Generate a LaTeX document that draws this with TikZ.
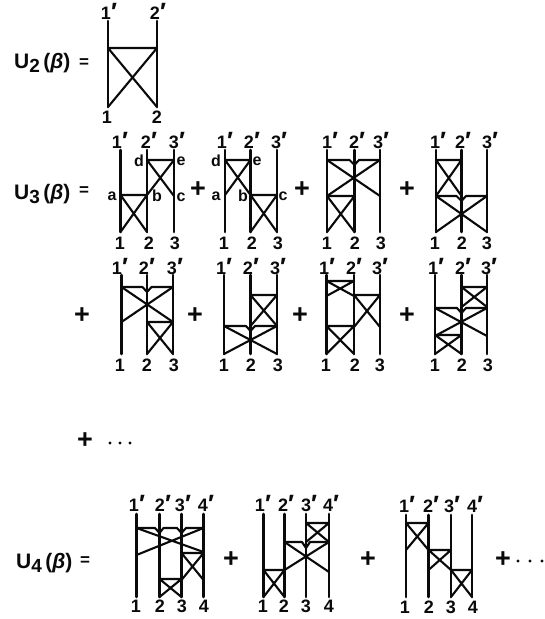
\documentclass[tikz,border=0pt]{standalone}
\usepackage{fontspec}
\setmainfont{Liberation Sans}
\usetikzlibrary{positioning}
\definecolor{PrintBlack}{gray}{0.04}
\tikzset{%
  world_line/.style={%
    draw=PrintBlack,%
    line width=2.8pt,%
    line cap=round,%
  },
  rung/.style={%
    draw=PrintBlack,%
    line width=2.1pt,%
    line join=round,%
    line cap=round,%
  },
  wire_label/.style={%
    text=PrintBlack,%
    inner sep=0pt,%
    font={\fontsize{18}{18}\selectfont\bfseries},%
  },
  vertex_label/.style={%
    text=PrintBlack,%
    inner sep=0pt,%
    font={\fontsize{16}{16}\selectfont\bfseries},%
  },
  term_sign/.style={%
    text=PrintBlack,%
    inner sep=0pt,%
    font={\fontsize{27}{27}\selectfont\bfseries},%
  },
  equal_sign/.style={%
    text=PrintBlack,%
    inner sep=0pt,%
    font={\fontsize{17}{17}\selectfont\bfseries},%
  },
  lhs/.style={%
    text=PrintBlack,%
    inner sep=0pt,%
    anchor=west,%
    font={\fontsize{21}{21}\selectfont\bfseries},%
  },
}
\newcommand{\ulabel}[1]{U\raisebox{-0.35ex}{\fontsize{19}{19}\selectfont #1}\,({\itshape β})}
\newcommand{\pr}{\raisebox{-0.15ex}{\fontsize{25}{25}\selectfont ′}}

\begin{document}
\begin{tikzpicture}[x=1pt, y=-1pt]
  \useasboundingbox (0,0) rectangle (545,619);

  % U2
  \node [lhs] (U2) at (14,63) {\ulabel{2}};
  \node [equal_sign] (U2_eq) at (84,63) {=};
  \foreach \n/\x/\t/\b in {1/108/109/107, 2/157/158/157} {
    \draw [world_line] (\x,21) -- (\x,107);
    \node [wire_label] (A_top\n) at (\t,12) {\n\pr};
    \node [wire_label] (A_bot\n) at (\b,117) {\n};
  }
  \draw [rung] (108,48) -- (157,48) (108,48) -- (157,107) (157,48) -- (108,107);

  % U3, first row
  \node [lhs] (U3) at (14,194) {\ulabel{3}};
  \node [equal_sign] (U3_eq) at (84,191) {=};
  \foreach \n/\x/\t/\b in {1/120.5/120/120, 2/147/149/149, 3/174/177/175} {
    \draw [world_line] (\x,150) -- (\x,232);
    \node [wire_label] (B_top\n) at (\t,141) {\n\pr};
    \node [wire_label] (B_bot\n) at (\b,243) {\n};
  }
  \draw [rung] (120.5,195) -- (147,195) (120.5,195) -- (147,232) (147,195) -- (120.5,232);
  \draw [rung] (147,160) -- (174,160) (147,160) -- (174,196) (174,160) -- (147,195);
  \node [vertex_label] (B_a) at (112,196) {a};
  \node [vertex_label] (B_b) at (157,196) {b};
  \node [vertex_label] (B_c) at (181,197) {c};
  \node [vertex_label] (B_d) at (139,161) {d};
  \node [vertex_label] (B_e) at (181,161) {e};
  \node [term_sign] (plus_B) at (198,190) {+};

  \foreach \n/\x/\t/\b in {1/225/225/224, 2/250.5/252/252, 3/277/279/278} {
    \draw [world_line] (\x,150) -- (\x,232);
    \node [wire_label] (C_top\n) at (\t,141) {\n\pr};
    \node [wire_label] (C_bot\n) at (\b,243) {\n};
  }
  \draw [rung] (225,160) -- (250.5,160) (225,160) -- (250.5,195) (250.5,160) -- (225,195);
  \draw [rung] (250.5,195) -- (277,195) (250.5,195) -- (277,232) (277,195) -- (250.5,232);
  \node [vertex_label] (C_d) at (216,161) {d};
  \node [vertex_label] (C_e) at (257,161) {e};
  \node [vertex_label] (C_a) at (216,196) {a};
  \node [vertex_label] (C_b) at (243,196) {b};
  \node [vertex_label] (C_c) at (283,196) {c};
  \node [term_sign] (plus_C) at (302,190) {+};

  \foreach \n/\x/\t/\b in {1/327/330/327, 2/354.5/357/355, 3/380/381/381} {
    \draw [world_line] (\x,150) -- (\x,232);
    \node [wire_label] (D_top\n) at (\t,141) {\n\pr};
    \node [wire_label] (D_bot\n) at (\b,243) {\n};
  }
  \draw [rung] (327,160) -- (349.5,160) -- (354.5,165) -- (359,160) -- (380,160);
  \draw [rung] (327,160) -- (380,196) (380,160) -- (327,196);
  \draw [rung] (327,196) -- (354.5,196) (327,196) -- (354.5,232) (354.5,196) -- (327,232);
  \node [term_sign] (plus_D) at (407,190) {+};

  \foreach \n/\x/\t/\b in {1/436/438/435, 2/461.5/463/462, 3/487/490/487} {
    \draw [world_line] (\x,150) -- (\x,232);
    \node [wire_label] (E_top\n) at (\t,141) {\n\pr};
    \node [wire_label] (E_bot\n) at (\b,243) {\n};
  }
  \draw [rung] (436,160) -- (461.5,160) (436,160) -- (461.5,196) (461.5,160) -- (436,196);
  \draw [rung] (436,196) -- (456.5,196) -- (461.5,201) -- (466,196) -- (487,196);
  \draw [rung] (436,196) -- (487,232) (487,196) -- (436,232);

  % U3, second row
  \node [term_sign] (plus_F) at (82,316) {+};
  \foreach \n/\x/\t/\b in {1/121.5/120/120, 2/147/147/147, 3/173/175/174} {
    \draw [world_line] (\x,275) -- (\x,354);
    \node [wire_label] (F_top\n) at (\t,267) {\n\pr};
    \node [wire_label] (F_bot\n) at (\b,365) {\n};
  }
  \draw [rung] (121.5,287) -- (142.5,287) -- (147,292) -- (151.5,287) -- (173,287);
  \draw [rung] (121.5,287) -- (173,322) (173,287) -- (121.5,322);
  \draw [rung] (147,322) -- (173,322) (147,322) -- (173,354) (173,322) -- (147,354);
  \node [term_sign] (plus_G) at (195,316) {+};

  \foreach \n/\x/\t/\b in {1/224/224/224, 2/250.5/251/251, 3/277/278/278} {
    \draw [world_line] (\x,275) -- (\x,354);
    \node [wire_label] (G_top\n) at (\t,267) {\n\pr};
    \node [wire_label] (G_bot\n) at (\b,365) {\n};
  }
  \draw [rung] (250.5,295) -- (277,295) (250.5,295) -- (277,326) (277,295) -- (250.5,326);
  \draw [rung] (224,326) -- (246,326) -- (250.5,331) -- (255,326) -- (277,326);
  \draw [rung] (224,326) -- (277,354) (277,326) -- (224,354);
  \node [term_sign] (plus_H) at (300,316) {+};

  \foreach \n/\x/\t/\b in {1/326.5/327/326, 2/354/354/355, 3/380/380/380} {
    \draw [world_line] (\x,275) -- (\x,354);
    \node [wire_label] (H_top\n) at (\t,267) {\n\pr};
    \node [wire_label] (H_bot\n) at (\b,365) {\n};
  }
  \draw [rung] (326.5,281) -- (354,281) (326.5,281) -- (354,296) (354,281) -- (326.5,296);
  \draw [rung] (354,295) -- (380,295) (354,295) -- (380,327) (380,295) -- (354,327);
  \draw [rung] (326.5,326) -- (354,326) (326.5,326) -- (354,354) (354,326) -- (326.5,354);
  \node [term_sign] (plus_I) at (407,316) {+};

  \foreach \n/\x/\t/\b in {1/435/436/435, 2/461.5/463/462, 3/487/489/488} {
    \draw [world_line] (\x,275) -- (\x,354);
    \node [wire_label] (I_top\n) at (\t,267) {\n\pr};
    \node [wire_label] (I_bot\n) at (\b,365) {\n};
  }
  \draw [rung] (461.5,287) -- (487,287) (461.5,287) -- (487,307) (487,287) -- (461.5,307);
  \draw [rung] (435,308) -- (457,308) -- (461.5,313) -- (466,308) -- (487,308);
  \draw [rung] (435,308) -- (487,336) (487,308) -- (435,336);
  \draw [rung] (435,335) -- (461.5,335) (435,335) -- (461.5,354) (461.5,335) -- (435,354);

  % third row of dots
  \node [term_sign] (plus_more) at (85,441) {+};
  \foreach \n/\x in {1/110, 2/120, 3/130} {
    \fill [PrintBlack] (\x,443) circle (1.6pt);
  }

  % U4
  \node [lhs] (U4) at (16,563) {\ulabel{4}};
  \node [equal_sign] (U4_eq) at (85,561) {=};
  \foreach \n/\x/\t/\b in {1/136.5/137/136, 2/159.5/163/160, 3/181.5/183/182, 4/203.5/206/204} {
    \draw [world_line] (\x,514) -- (\x,597);
    \node [wire_label] (J_top\n) at (\t,504) {\n\pr};
    \node [wire_label] (J_bot\n) at (\b,606) {\n};
  }
  \draw [rung] (136.5,528) -- (155,528) -- (159.5,533) -- (163.5,528) -- (177,528) -- (181.5,533) -- (186,528) -- (203.5,528);
  \draw [rung] (136.5,528) -- (203.5,552) (203.5,528) -- (136.5,555);
  \draw [rung] (181.5,553) -- (203.5,553) (181.5,553) -- (203.5,580) (203.5,553) -- (181.5,580);
  \draw [rung] (159.5,579) -- (181.5,579) (159.5,579) -- (181.5,597) (181.5,579) -- (159.5,597);
  \node [term_sign] (plus_J) at (231,560) {+};

  \foreach \n/\x/\t/\b in {1/263.5/263/263, 2/284.5/286/284, 3/306/309/306, 4/329/331/329} {
    \draw [world_line] (\x,514) -- (\x,597);
    \node [wire_label] (K_top\n) at (\t,504) {\n\pr};
    \node [wire_label] (K_bot\n) at (\b,606) {\n};
  }
  \draw [rung] (263.5,570) -- (284.5,570) (263.5,570) -- (284.5,597) (284.5,570) -- (263.5,597);
  \draw [rung] (284.5,542) -- (302,542) -- (306,548) -- (310,542) -- (329,542);
  \draw [rung] (284.5,542) -- (329,572) (329,542) -- (284.5,570);
  \draw [rung] (306,523) -- (329,523) (306,523) -- (329,542) (329,523) -- (306,542);
  \node [term_sign] (plus_K) at (368,560) {+};

  \foreach \n/\x/\t/\b in {1/406/407/405, 2/428.5/431/429, 3/451/452/451, 4/472/475/473} {
    \draw [world_line] (\x,515) -- (\x,597);
    \node [wire_label] (L_top\n) at (\t,505) {\n\pr};
    \node [wire_label] (L_bot\n) at (\b,607) {\n};
  }
  \draw [rung] (406,523) -- (428.5,523) (406,523) -- (428.5,550) (428.5,523) -- (406,550);
  \draw [rung] (428.5,550) -- (451,550) (428.5,550) -- (451,570) (451,550) -- (428.5,570);
  \draw [rung] (451,570) -- (472,570) (451,570) -- (472,597) (472,570) -- (451,597);
  \node [term_sign] (plus_L) at (503,560) {+};
  \foreach \n/\x in {1/518, 2/530, 3/542} {
    \fill [PrintBlack] (\x,561) circle (1.6pt);
  }
\end{tikzpicture}
\end{document}
